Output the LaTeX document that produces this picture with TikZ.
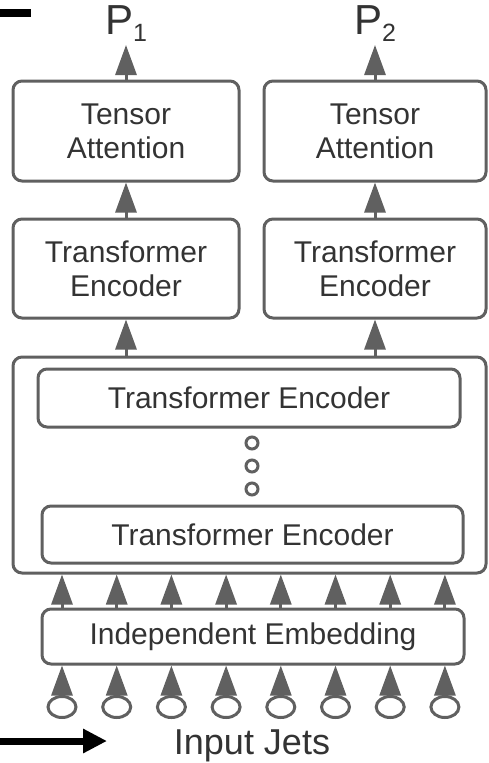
\documentclass[tikz,border=0pt]{standalone}
\usepackage{fontspec}
\setmainfont{Liberation Sans}
\usetikzlibrary{arrows.meta,shapes.geometric}
\definecolor{linegray}{RGB}{96,96,96}
\definecolor{textgray}{RGB}{51,51,51}
\tikzset{
	block/.style={draw=linegray,line width=3pt,rounded corners=9pt,inner sep=0pt,text=textgray,align=center,font=\fontsize{30}{34}\selectfont},
	flow/.style={draw=linegray,line width=3pt,-{Triangle[length=30pt,width=21pt]}},
	jet/.style={draw=linegray,line width=3pt,ellipse,minimum width=28pt,minimum height=21pt,inner sep=0pt},
	dot/.style={draw=linegray,line width=3pt,circle,minimum size=12pt,inner sep=0pt},
	plabel/.style={anchor=south,inner sep=0pt,text=textgray,font=\fontsize{42}{42}\selectfont}
}

\begin{document}
\begin{tikzpicture}[x=1pt,y=-1pt]
		\useasboundingbox (0,0) rectangle (488,763);
		
		\node[block,minimum width=226pt,minimum height=100pt] (ta1) at (126,131) {Tensor\\Attention};
		\node[block,minimum width=222pt,minimum height=100pt] (ta2) at (375,131) {Tensor\\Attention};
		\node[block,minimum width=226pt,minimum height=99pt] (te1) at (126,268.5) {Transformer\\Encoder};
		\node[block,minimum width=222pt,minimum height=99pt] (te2) at (375,268.5) {Transformer\\Encoder};
		\node[plabel] (p1) at (126,42) {P\raisebox{-7pt}{\fontsize{25}{25}\selectfont 1}};
		\node[plabel] (p2) at (375,42) {P\raisebox{-7pt}{\fontsize{25}{25}\selectfont 2}};
		
		\node[block,minimum width=473pt,minimum height=216pt] (stack) at (249.5,465) {};
		\node[block,minimum width=422pt,minimum height=58pt] (enctop) at (249,398) {Transformer Encoder};
		\node[block,minimum width=421pt,minimum height=57pt] (encbot) at (252.5,534.5) {Transformer Encoder};
		\node[dot] (d1) at (252,443) {};
		\node[dot] (d2) at (252,466) {};
		\node[dot] (d3) at (252,489) {};
		
		\node[block,minimum width=422pt,minimum height=55pt] (emb) at (253,636.5) {Independent Embedding};
		\node[inner sep=0pt,anchor=base,text=textgray,font=\fontsize{36}{36}\selectfont] (input) at (252,754) {Input Jets};
		
		\draw[flow,shorten >=3pt] (ta1.north) -- (p1.south);
		\draw[flow,shorten >=3pt] (ta2.north) -- (p2.south);
		\draw[flow] (te1.north) -- (ta1.south);
		\draw[flow] (te2.north) -- (ta2.south);
		\draw[flow] (te1.south |- stack.north) -- (te1.south);
		\draw[flow] (te2.south |- stack.north) -- (te2.south);
		
		\foreach \i in {1,...,8} {
			\node[jet] (j\i) at ({62+54.7*(\i-1)},707) {};
			\draw[flow] (j\i.north) -- (j\i.north |- emb.south);
			\draw[flow] (j\i.north |- emb.north) -- (j\i.north |- stack.south);
		}
		
		\fill (0,9) rectangle (31,17);
		\coordinate (cutl) at (0,741);
		\coordinate (cutr) at (107,741);
		\draw[line width=7pt,-{Triangle[length=24pt,width=23pt]}] (cutl) -- (cutr);
	\end{tikzpicture}
\end{document}
